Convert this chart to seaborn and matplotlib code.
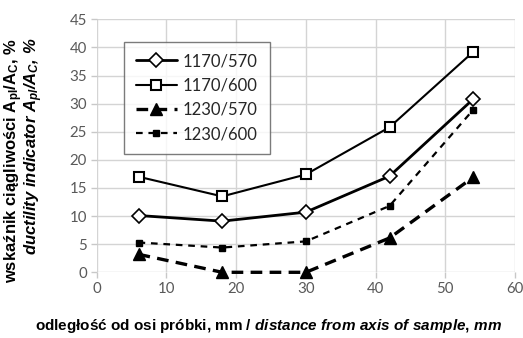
import matplotlib
matplotlib.use("Agg")
import matplotlib.pyplot as plt
import seaborn as sns
import pandas as pd

# distance from sample axis, mm
distance = [6, 18, 30, 42, 54]
# ductility indicator Apl/Ac, %
s_1170_570 = [10.1, 9.1, 10.7, 17.1, 30.8]
s_1170_600 = [17.0, 13.5, 17.4, 25.8, 39.2]
s_1230_570 = [3.2, 0.0, 0.0, 6.1, 16.9]
s_1230_600 = [5.3, 4.4, 5.5, 11.8, 28.9]
series_names = ["1170/570", "1170/600", "1230/570", "1230/600"]
x_ticks = [0, 10, 20, 30, 40, 50, 60]
y_ticks = [0, 5, 10, 15, 20, 25, 30, 35, 40, 45]

df = pd.DataFrame({
    "x": distance * 4,
    "y": s_1170_570 + s_1170_600 + s_1230_570 + s_1230_600,
    "series": sum([[n] * len(distance) for n in series_names], []),
})

sns.set_theme(style="white")
plt.rcParams["font.family"] = ["Lato", "DejaVu Sans"]
plt.rcParams["mathtext.fontset"] = "custom"
plt.rcParams["mathtext.it"] = "Liberation Sans:italic:bold"
plt.rcParams["mathtext.rm"] = "Liberation Sans:bold"

W, H = 523, 338
fig = plt.figure(figsize=(W / 100, H / 100), dpi=100)
ax = fig.add_axes([96.7 / W, 1 - 272.3 / H, (515 - 96.7) / W, (272.3 - 19.3) / H])

styles = {
    "1170/570": dict(marker="D", ms=7, mfc="white", mec="black", mew=1.2, lw=2.0, ls="-"),
    "1170/600": dict(marker="s", ms=7, mfc="white", mec="black", mew=1.5, lw=1.5, ls="-"),
    "1230/570": dict(marker="^", ms=8, mfc="black", mec="black", mew=1.0, lw=2.4, ls=(0, (3.5, 2.2))),
    "1230/600": dict(marker="s", ms=5, mfc="black", mec="black", mew=1.0, lw=1.6, ls=(0, (3.0, 2.6))),
}

for name in series_names:
    st = styles[name]
    sub = df[df["series"] == name]
    sns.lineplot(data=sub, x="x", y="y", ax=ax, color="black", label=name,
                 marker=st["marker"], markersize=st["ms"],
                 markerfacecolor=st["mfc"], markeredgecolor=st["mec"],
                 markeredgewidth=st["mew"], linewidth=st["lw"], linestyle=st["ls"],
                 clip_on=False, zorder=3)

ax.set_xlim(0, 60)
ax.set_ylim(0, 45)
ax.set_xticks(x_ticks)
ax.set_yticks(y_ticks)
ax.grid(True, color="#d4d4d4", linewidth=1.0)
for sp in ax.spines.values():
    sp.set_visible(False)
ax.tick_params(axis="both", which="major", length=4, width=1.0, color="#c8c8c8",
               labelcolor="#595959", labelsize=10.8, pad=3, left=True, bottom=True)
ax.set_xlabel("")
ax.set_ylabel("")

leg = ax.legend(loc="upper left", bbox_to_anchor=(0.065, 0.912), borderaxespad=0,
                frameon=True, fancybox=False, edgecolor="#5a5a5a", fontsize=12,
                handlelength=2.5, handletextpad=0.35, labelspacing=0.5,
                borderpad=0.7)
leg.get_frame().set_linewidth(1.0)
for t in leg.get_texts():
    t.set_color("#262626")

fig.text(268.5 / W, 1 - 326 / H,
         r"odległość od osi próbki, mm / $\mathit{distance\ from\ axis\ of\ sample{,}\ mm}$",
         ha="center", va="center", fontsize=11, fontweight="bold",
         family="Liberation Sans", color="black")

fig.text(13.5 / W, 1 - 38 / H,
         r"wskaźnik ciągliwości A$_\mathregular{pl}$/A$_\mathregular{C}$, %",
         rotation=90, ha="center", va="top", fontsize=12, fontweight="bold",
         family="Liberation Sans", color="black")
fig.text(34 / W, 1 - 38 / H,
         r"ductility indicator A$_\mathregular{pl}$/A$_\mathregular{C}$, %",
         rotation=90, ha="center", va="top", fontsize=12, fontweight="bold",
         fontstyle="italic", family="Liberation Sans", color="black")

fig.savefig("out.png", dpi=100)
